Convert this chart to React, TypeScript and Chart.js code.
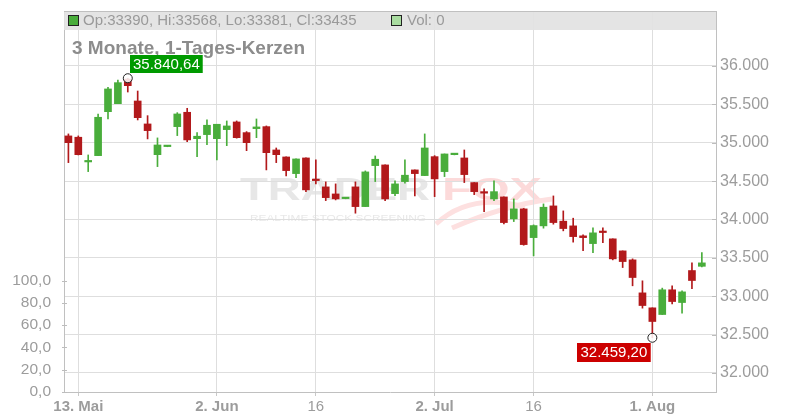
import React, { useEffect, useRef } from 'react';
import { Chart, registerables } from 'chart.js';

Chart.register(...registerables);

// ---- data (one entry per trading day, 10 May .. 8 Aug) ----
const opens = [
  35089, 35072, 34750, 34832, 35405, 35509, 35830, 35544, 35245, 34845,
  34950, 35210, 35397, 35053, 35106, 35053, 35171, 35271, 35132, 35184,
  35210, 34906, 34815, 34598, 34802, 34516, 34425, 34333, 34272, 34425,
  34168, 34702, 34711, 34337, 34494, 34646, 34572, 34819, 34624, 34845,
  34802, 34481, 34363, 34268, 34294, 34008, 34138, 33764, 33917, 34177,
  33978, 33917, 33787, 33686, 33843, 33748, 33591, 33474, 33044, 32849,
  32762, 33084, 32918, 33335, 33390,
];
const highs = [
  35115, 35089, 34841, 35375, 35723, 35818, 35840.64, 35674, 35353, 35063,
  34962, 35392, 35449, 35132, 35297, 35241, 35284, 35284, 35145, 35310,
  35219, 34932, 34815, 34789, 34802, 34776, 34490, 34464, 34285, 34490,
  34633, 34828, 34711, 34503, 34776, 34646, 35115, 34832, 34854, 34860,
  34906, 34481, 34399, 34503, 34294, 34268, 34145, 33930, 34203, 34307,
  34112, 34017, 33800, 33891, 33891, 33748, 33591, 33487, 33201, 32849,
  33106, 33136, 33070, 33435, 33568,
];
const lows = [
  34741, 34841, 34624, 34832, 35310, 35509, 35661, 35297, 35050, 34689,
  34948, 35093, 35014, 34819, 34975, 34776, 34962, 35060, 34897, 35066,
  34646, 34741, 34568, 34546, 34363, 34464, 34246, 34255, 34270, 34082,
  34168, 34494, 34246, 34311, 34473, 34307, 34572, 34298, 34559, 34842,
  34481, 34324, 34103, 34246, 33943, 33973, 33665, 33526, 33887, 33939,
  33852, 33705, 33595, 33569, 33699, 33474, 33374, 33136, 32845, 32459.2,
  32762, 32901, 32780, 33100, 33381,
];
const closes = [
  35001, 34845, 34767, 35332, 35701, 35783, 35744, 35327, 35158, 34971,
  34958, 35375, 35037, 35085, 35228, 35241, 35219, 35066, 35001, 35206,
  34871, 34845, 34637, 34789, 34386, 34507, 34285, 34268, 34280, 34168,
  34620, 34785, 34268, 34464, 34577, 34598, 34932, 34529, 34854, 34854,
  34585, 34363, 34343, 34363, 33960, 34138, 33673, 33921, 34160, 33960,
  33882, 33777, 33764, 33826, 33830, 33487, 33452, 33244, 32879, 32671,
  33084, 32931, 33057, 33205, 33435,
];

const xTickIndices = [1, 15, 25, 37, 47, 59];
const xTickLabels = ['13. Mai', '2. Jun', '16', '2. Jul', '16', '1. Aug'];
const xTickBold = [true, true, false, true, false, true];
const priceTicks = [32000, 32500, 33000, 33500, 34000, 34500, 35000, 35500, 36000];
const volumeTicks = [0, 20, 40, 60, 80, 100];

const lastOpen = 33390;
const lastHigh = 33568;
const lastLow = 33381;
const lastClose = 33435;
const lastVolume = 0;
const chartTitle = '3 Monate, 1-Tages-Kerzen';

// ---- styling ----
const GREEN = '#49ad3b';
const RED = '#b2191b';
const FONT = '"Liberation Sans", Arial, Helvetica, sans-serif';
const GRID = '#dedede';
const AXIS = '#c0c0c0';
const LABEL = '#9c9c9c';

function fmtDe(v: number, d: number): string {
  const s = v.toFixed(d);
  const [i, f] = s.split('.');
  const iF = i.replace(/\B(?=(\d{3})+(?!\d))/g, '.');
  return f ? iF + ',' + f : iF;
}

function drawStretched(ctx: CanvasRenderingContext2D, text: string, x: number, y: number, w: number, color: string) {
  const m = ctx.measureText(text).width;
  ctx.save();
  ctx.translate(x, y);
  ctx.scale(w / m, 1);
  ctx.fillStyle = color;
  ctx.fillText(text, 0, 0);
  ctx.restore();
}

const overlayPlugin = {
  id: 'tfOverlay',
  beforeDraw(chart: any) {
    const ctx: CanvasRenderingContext2D = chart.ctx;
    ctx.save();
    ctx.textBaseline = 'alphabetic';
    ctx.textAlign = 'left';
    ctx.font = 'bold 32px ' + FONT;
    drawStretched(ctx, 'TRADER', 240, 200, 190, '#e7e7e7');
    drawStretched(ctx, 'FOX', 442, 200, 100, '#fcdada');
    ctx.font = '9px ' + FONT;
    drawStretched(ctx, 'REALTIME STOCK SCREENING', 250, 221, 176, '#e8e8e8');
    ctx.strokeStyle = '#fde0e0';
    ctx.lineWidth = 5;
    ctx.beginPath();
    ctx.moveTo(436, 224);
    ctx.quadraticCurveTo(470, 192, 525, 207);
    ctx.stroke();
    ctx.beginPath();
    ctx.moveTo(452, 228);
    ctx.quadraticCurveTo(505, 205, 552, 199);
    ctx.stroke();
    ctx.restore();
  },
  afterDraw(chart: any) {
    const ctx: CanvasRenderingContext2D = chart.ctx;
    const { left, right, top } = chart.chartArea;
    const xs = chart.scales.x;
    const ys = chart.scales.y;
    const yv = chart.scales.yv;
    ctx.save();

    // inner tick marks on price axis
    ctx.strokeStyle = '#bdbdbd';
    ctx.lineWidth = 1;
    priceTicks.forEach((p) => {
      const y = Math.round(ys.getPixelForValue(p)) + 0.5;
      ctx.beginPath();
      ctx.moveTo(right - 4, y);
      ctx.lineTo(right, y);
      ctx.stroke();
    });
    volumeTicks.forEach((v) => {
      const y = Math.round(yv.getPixelForValue(v)) + 0.5;
      ctx.beginPath();
      ctx.moveTo(left - 2, y);
      ctx.lineTo(left + 3, y);
      ctx.stroke();
    });

    // header bar
    ctx.fillStyle = 'rgba(226,226,226,0.92)';
    ctx.fillRect(left, top, right - left, 19);
    ctx.strokeStyle = AXIS;
    ctx.beginPath();
    ctx.moveTo(left, top + 0.5);
    ctx.lineTo(right, top + 0.5);
    ctx.stroke();

    ctx.lineWidth = 1;
    ctx.fillStyle = GREEN;
    ctx.fillRect(68.5, 15.5, 10, 10);
    ctx.strokeStyle = '#222';
    ctx.strokeRect(68.5, 15.5, 10, 10);
    ctx.fillStyle = '#a9dca0';
    ctx.fillRect(391.5, 15.5, 10, 10);
    ctx.strokeRect(391.5, 15.5, 10, 10);

    ctx.font = '15px ' + FONT;
    ctx.fillStyle = '#9a9a9a';
    ctx.textBaseline = 'middle';
    ctx.textAlign = 'left';
    ctx.fillText(`Op:${lastOpen}, Hi:${lastHigh}, Lo:${lastLow}, Cl:${lastClose}`, 83, 21);
    ctx.fillText(`Vol: ${lastVolume}`, 407, 21);

    // title
    ctx.font = 'bold 19px ' + FONT;
    ctx.fillStyle = '#8c8c8c';
    ctx.textBaseline = 'alphabetic';
    ctx.fillText(chartTitle, 72, 54);

    // high / low markers
    let hiIdx = 0;
    let loIdx = 0;
    highs.forEach((h, i) => { if (h > highs[hiIdx]) hiIdx = i; });
    lows.forEach((l, i) => { if (l < lows[loIdx]) loIdx = i; });
    const hx = xs.getPixelForValue(hiIdx);
    const hy = ys.getPixelForValue(highs[hiIdx]);
    const lx = xs.getPixelForValue(loIdx);
    const ly = ys.getPixelForValue(lows[loIdx]);

    ctx.font = '15px ' + FONT;
    const hText = fmtDe(highs[hiIdx], 2);
    const lText = fmtDe(lows[loIdx], 2);
    const hw = ctx.measureText(hText).width + 6;
    const lw = ctx.measureText(lText).width + 7;

    ctx.fillStyle = '#009a00';
    ctx.fillRect(Math.round(hx + 2.5), Math.round(hy - 23), hw, 18);
    ctx.fillStyle = '#cc0000';
    ctx.fillRect(Math.round(lx - 2 - lw), Math.round(ly + 5), lw, 19);

    ctx.fillStyle = '#ffffff';
    ctx.textBaseline = 'middle';
    ctx.textAlign = 'left';
    ctx.fillText(hText, Math.round(hx + 2.5) + 3, Math.round(hy - 23) + 9.5);
    ctx.fillText(lText, Math.round(lx - 2 - lw) + 3.5, Math.round(ly + 5) + 10);

    [[hx, hy], [lx, ly]].forEach(([cx, cy]) => {
      ctx.beginPath();
      ctx.arc(cx, cy, 4.5, 0, Math.PI * 2);
      ctx.fillStyle = 'rgba(255,255,255,0.85)';
      ctx.fill();
      ctx.strokeStyle = '#222';
      ctx.lineWidth = 1;
      ctx.stroke();
    });

    ctx.restore();
  },
};

export default function App() {
  const ref = useRef<HTMLCanvasElement | null>(null);

  useEffect(() => {
    if (!ref.current) return;
    const idx = opens.map((_, i) => i);
    const colors = idx.map((i) => (closes[i] >= opens[i] ? GREEN : RED));

    const chart = new Chart(ref.current, {
      type: 'bar',
      data: {
        datasets: [
          {
            label: 'wick',
            data: idx.map((i) => ({ x: i, y: [lows[i], highs[i]] })) as any,
            backgroundColor: colors,
            barThickness: 1,
            grouped: false,
            order: 2,
            xAxisID: 'x',
            yAxisID: 'y',
          },
          {
            label: 'body',
            data: idx.map((i) => ({
              x: i,
              y: [Math.min(opens[i], closes[i]), Math.max(opens[i], closes[i])],
            })) as any,
            backgroundColor: colors,
            barThickness: 7,
            minBarLength: 1.5,
            grouped: false,
            order: 1,
            xAxisID: 'x',
            yAxisID: 'y',
          },
        ],
      },
      options: {
        responsive: false,
        animation: false,
        devicePixelRatio: 1,
        layout: { padding: { top: 11, left: 0, right: 0, bottom: 0 } },
        plugins: { legend: { display: false }, tooltip: { enabled: false } },
        scales: {
          x: {
            type: 'linear',
            min: -0.445,
            max: 65.43,
            offset: false,
            grid: { offset: false, color: GRID, tickLength: 4, tickColor: '#c8c8c8' },
            border: { color: AXIS },
            afterBuildTicks: (s: any) => {
              s.ticks = xTickIndices.map((v) => ({ value: v }));
            },
            afterFit: (s: any) => {
              s.height = 28;
              s.paddingLeft = 0;
              s.paddingRight = 0;
            },
            ticks: {
              autoSkip: false,
              maxRotation: 0,
              padding: 2,
              color: LABEL,
              font: (c: any) => ({ family: FONT, size: 15, weight: xTickBold[c.index] ? 'bold' : 'normal' }),
              callback: (v: any) => {
                const k = xTickIndices.indexOf(Number(v));
                return k >= 0 ? xTickLabels[k] : '';
              },
            },
          } as any,
          y: {
            position: 'right',
            min: 31752.4,
            max: 36716.6,
            beginAtZero: false,
            grid: { color: GRID, drawTicks: false },
            border: { color: AXIS },
            afterBuildTicks: (s: any) => {
              s.ticks = priceTicks.map((v) => ({ value: v }));
            },
            afterFit: (s: any) => {
              s.width = 84;
              s.paddingTop = 0;
              s.paddingBottom = 0;
            },
            ticks: {
              padding: 4,
              color: LABEL,
              font: { family: FONT, size: 16 },
              callback: (v: any) => fmtDe(Number(v), 0),
            },
          } as any,
          yv: {
            position: 'left',
            min: 0,
            max: 342.3,
            beginAtZero: true,
            grid: { display: false },
            border: { color: AXIS },
            afterBuildTicks: (s: any) => {
              s.ticks = volumeTicks.map((v) => ({ value: v }));
            },
            afterFit: (s: any) => {
              s.width = 64;
              s.paddingTop = 0;
              s.paddingBottom = 0;
            },
            ticks: {
              padding: 5,
              color: LABEL,
              font: { family: FONT, size: 15.5 },
              callback: (v: any) => fmtDe(Number(v), 1),
            },
          } as any,
        },
      },
      plugins: [overlayPlugin],
    });
    return () => chart.destroy();
  }, []);

  return (
    <div style={{ position: 'absolute', left: 0, top: 0, width: 800, height: 420, background: '#fff' }}>
      <canvas ref={ref} width={800} height={420} style={{ display: 'block', width: 800, height: 420 }} />
    </div>
  );
}
